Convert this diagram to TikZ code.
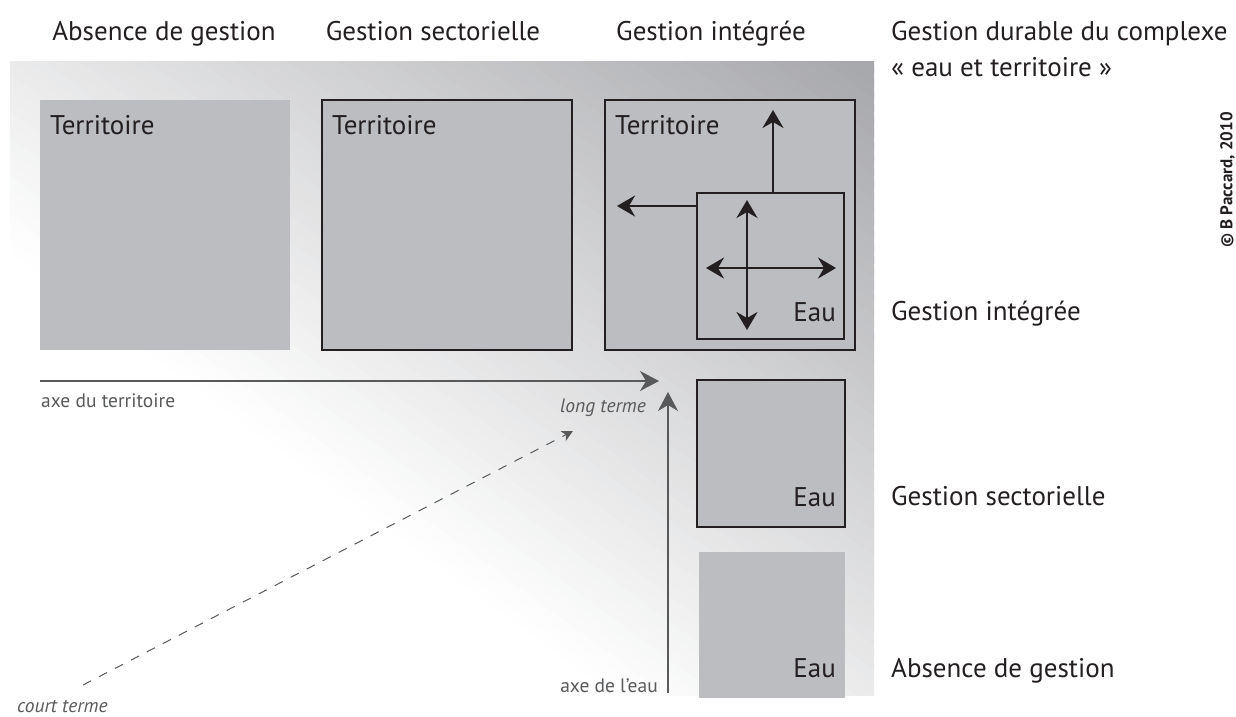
\documentclass[tikz,border=0pt]{standalone}
\usepackage{fontspec}
\setmainfont{PT Sans}
\usetikzlibrary{arrows.meta,calc}
\definecolor{ink}{HTML}{231F20}
\definecolor{boxfill}{HTML}{BCBDC1}
\definecolor{axisgray}{HTML}{58595B}
\definecolor{bgdark}{HTML}{A6A7AB}
\begin{document}
\begin{tikzpicture}[x=1pt,y=-1pt,
  box/.style={fill=boxfill, anchor=north west, inner sep=0pt, outer sep=0pt},
  big/.style={box, minimum width=250pt, minimum height=250pt},
  framed/.style={draw=ink, line width=2.3pt},
  lbl/.style={font=\fontsize{27}{32}\selectfont, text=ink, inner sep=0pt},
  small/.style={font=\fontsize{19.5}{23}\selectfont, text=axisgray, inner sep=0pt},
  smallit/.style={small, font=\fontsize{19.5}{23}\selectfont\itshape},
  axis/.style={draw=axisgray, line width=1.4pt, -{Stealth[length=19pt,width=20pt,inset=6pt]}},
  inarrow/.style={draw=ink, line width=2.4pt, -{Stealth[length=18pt,width=21pt,inset=6pt]}},
  inarrows/.style={draw=ink, line width=2.4pt, {Stealth[length=18pt,width=21pt,inset=6pt]}-{Stealth[length=18pt,width=21pt,inset=6pt]}},
  dash arrow/.style={draw=axisgray, line width=1pt, dash pattern=on 9pt off 9pt, -{Stealth[length=11pt,width=11pt,inset=3pt]}}
]
\useasboundingbox (0,0) rectangle (1236,716);

% background gradient (white bottom left -> grey top right)
\begin{scope}
\clip (10,61) rectangle (874,695);
\foreach \i in {0,...,99} {
  \pgfmathsetmacro{\ca}{\i/100}
  \pgfmathsetmacro{\cb}{(\i+1.6)/100}
  \pgfmathsetmacro{\pp}{max(0,min(100,(\ca+0.005-0.35)/0.65*100))}
  \fill[bgdark!\pp!white] (-854,{61-1268*\ca}) -- ({874+1728*\ca},1329) -- ({874+1728*\cb},1329) -- (-854,{61-1268*\cb}) -- cycle;
}
\end{scope}

% top titles
\node[lbl, anchor=base] (h1) at (164,40) {Absence de gestion};
\node[lbl, anchor=base] (h2) at (433,40) {Gestion sectorielle};
\node[lbl, anchor=base] (h3) at (711,40) {Gestion intégrée};
\node[lbl, anchor=base west] (h4) at (891,40) {Gestion durable du complexe};
\node[lbl, anchor=base west] (h5) at (891,76) {« eau et territoire »};

% territory boxes
\node[big] (t1) at (40,100) {};
\node[big, framed] (t2) at (322,100) {};
\node[big, framed] (t3) at (605,100) {};
\node[lbl, anchor=base west] (t1l) at (50,134) {Territoire};
\node[lbl, anchor=base west] (t2l) at (332,134) {Territoire};
\node[lbl, anchor=base west] (t3l) at (615,134) {Territoire};

% water boxes
\node[box, framed, minimum width=147pt, minimum height=146pt] (e3) at (697,193) {};
\node[box, framed, minimum width=148pt, minimum height=147pt] (e2) at (697,380) {};
\node[box, minimum width=146pt, minimum height=146pt] (e1) at (699,552) {};
\node[lbl, anchor=base east] (e3l) at (836,321) {Eau};
\node[lbl, anchor=base east] (e2l) at (836,506) {Eau};
\node[lbl, anchor=base east] (e1l) at (836,677) {Eau};

% right labels
\node[lbl, anchor=base west] (r3) at (891,320) {Gestion intégrée};
\node[lbl, anchor=base west] (r2) at (891,505) {Gestion sectorielle};
\node[lbl, anchor=base west] (r1) at (891,677) {Absence de gestion};

% arrows inside integrated box
\coordinate (upS) at (773,193);
\coordinate (upE) at (773,110);
\coordinate (lfS) at (697,206);
\coordinate (lfE) at (617,206);
\coordinate (vA) at (747,200);
\coordinate (vB) at (747,330);
\coordinate (hA) at (706,268);
\coordinate (hB) at (836,268);
\draw[inarrow] (upS) -- (upE);
\draw[inarrow] (lfS) -- (lfE);
\draw[inarrows] (vA) -- (vB);
\draw[inarrows] (hA) -- (hB);

% axes
\coordinate (axT0) at (40,381);
\coordinate (axT1) at (659,381);
\coordinate (axE0) at (668,693);
\coordinate (axE1) at (668,392);
\draw[axis] (axT0) -- (axT1);
\draw[axis] (axE0) -- (axE1);
\node[small, anchor=base west] (axTl) at (41,407) {axe du territoire};
\node[small, anchor=base east] (axEl) at (658,692) {axe de l’eau};

% time
\coordinate (ct) at (83,685);
\coordinate (lt) at (573,431);
\draw[dash arrow] (ct) -- (lt);
\node[smallit, anchor=base] (ltl) at (603,412) {long terme};
\node[smallit, anchor=base west] (ctl) at (17,712) {court terme};

% copyright
\node[rotate=90, anchor=south, text=ink, font=\fontsize{17}{20}\selectfont\bfseries, inner sep=0pt] (copy) at (1235,180) {© B Paccard, 2010};
\end{tikzpicture}
\end{document}
